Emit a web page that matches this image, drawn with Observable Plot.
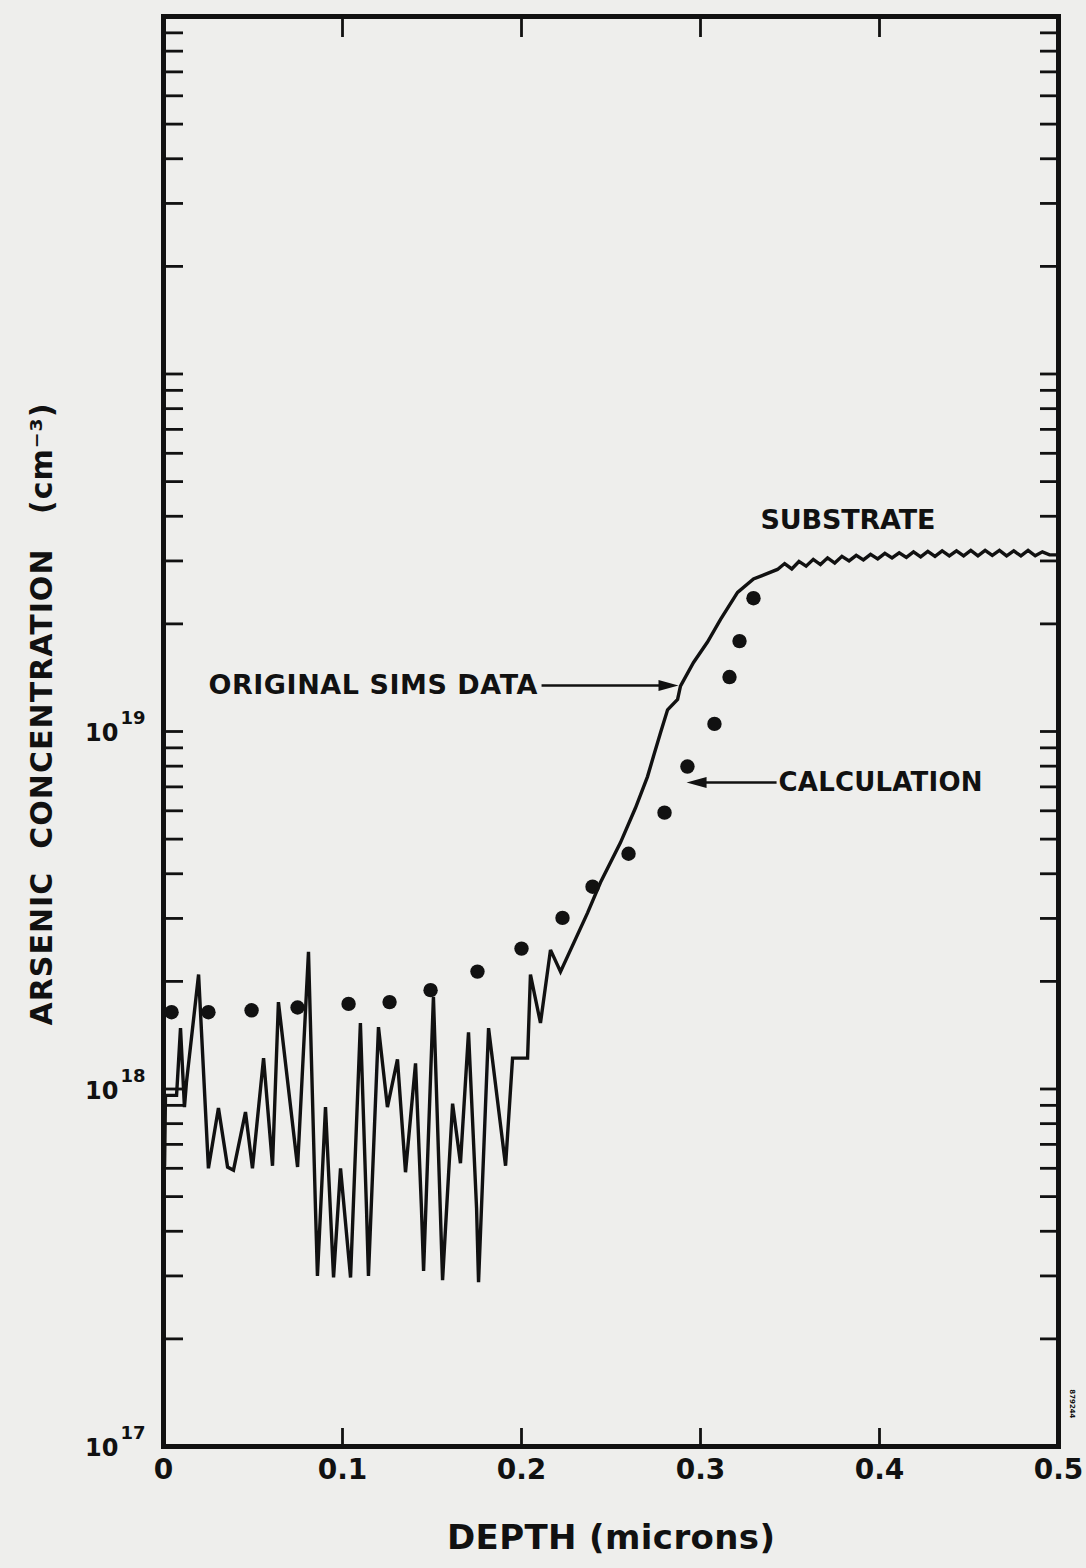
<!DOCTYPE html>
<html><head><meta charset="utf-8">
<script src="https://cdn.jsdelivr.net/npm/d3@7"></script>
<script src="https://cdn.jsdelivr.net/npm/@observablehq/plot@0.6"></script>
<style>
html,body{margin:0;padding:0;background:#eeeeec;}
#chart svg{display:block;}
</style></head><body><div id="chart"></div>
<script>
// ---- SIMS measured profile (depth in microns, concentration in cm^-3)
const depth = [0.0006,0.0011,0.0073,0.0095,0.0117,0.0128,0.0196,0.0251,0.0307,0.0358,0.0391,0.0458,0.0497,0.0559,0.0609,0.0642,0.0749,0.081,0.0849,0.086,0.0905,0.095,0.0989,0.1045,0.110,0.1134,0.1145,0.1201,0.1251,0.1307,0.1352,0.1408,0.1441,0.1453,0.1508,0.1559,0.1615,0.1659,0.1704,0.1749,0.176,0.1816,0.1911,0.195,0.2034,0.205,0.2106,0.2162,0.2218,0.2369,0.2441,0.2553,0.2637,0.2704,0.2737,0.2777,0.2816,0.2872,0.2888,0.2961,0.3039,0.3112,0.3207,0.3296,0.343,
  0.347,0.351,0.355,0.359,0.363,0.367,0.371,0.375,0.379,0.383,0.387,0.391,0.395,0.399,0.403,0.407,0.411,0.415,0.419,0.423,0.427,0.431,0.435,0.439,0.443,0.447,0.451,0.455,0.459,0.463,0.467,0.471,0.475,0.479,0.483,0.487,0.491,0.495,0.5];
const conc = [6.1e17,9.6e17,9.6e17,1.48e18,8.9e17,1.04e18,2.09e18,6.0e17,8.85e17,6.05e17,5.93e17,8.62e17,6.0e17,1.22e18,6.1e17,1.75e18,6.05e17,2.42e18,4.64e17,3.0e17,8.9e17,2.97e17,6.0e17,2.97e17,1.53e18,4.64e17,3.0e17,1.49e18,8.9e17,1.21e18,5.85e17,1.18e18,4.64e17,3.1e17,1.81e18,2.92e17,9.1e17,6.2e17,1.44e18,4.64e17,2.88e17,1.48e18,6.1e17,1.22e18,1.22e18,2.09e18,1.53e18,2.45e18,2.13e18,3.11e18,3.78e18,4.89e18,6.12e18,7.48e18,8.51e18,9.94e18,1.15e19,1.23e19,1.34e19,1.56e19,1.78e19,2.06e19,2.45e19,2.67e19,2.84e19,
  2.95e19,2.85e19,2.99e19,2.90e19,3.03e19,2.93e19,3.06e19,2.96e19,3.09e19,3.00e19,3.11e19,3.02e19,3.13e19,3.04e19,3.15e19,3.06e19,3.16e19,3.07e19,3.18e19,3.08e19,3.19e19,3.09e19,3.20e19,3.10e19,3.20e19,3.10e19,3.21e19,3.10e19,3.21e19,3.11e19,3.21e19,3.10e19,3.20e19,3.10e19,3.21e19,3.10e19,3.18e19,3.12e19,3.12e19];

// ---- Calculation (dots)
const calcDepth = [0.0045,0.0251,0.0492,0.0749,0.1034,0.1263,0.1492,0.1754,0.2,0.2229,0.2397,0.2598,0.2799,0.2927,0.3078,0.3162,0.3218,0.3296];
const calcConc = [1.64e18,1.64e18,1.66e18,1.69e18,1.73e18,1.75e18,1.89e18,2.13e18,2.47e18,3.01e18,3.68e18,4.55e18,5.93e18,7.98e18,1.05e19,1.42e19,1.79e19,2.36e19];

// ---- Ticks
const xTickLabels = [0, 0.1, 0.2, 0.3, 0.4, 0.5];
const xInnerTicks = [0.1, 0.2, 0.3, 0.4];
const yLabelTicks = [1e17, 1e18, 1e19];
const decades = [1e17, 1e18, 1e19, 1e20];
const mantissas = [1, 2, 3, 4, 5, 6, 7, 8, 9];
const yMinorTicks = decades.flatMap(p => mantissas.map(m => m * p)).concat([1e21]);

const sims = depth.map((d, i) => ({depth: d, conc: conc[i]}));
const calc = calcDepth.map((d, i) => ({depth: d, conc: calcConc[i]}));

// filled arrowhead symbol, tip at the point
const arrowHead = {
  draw(ctx, size) {
    const r = Math.sqrt(size / Math.PI);
    ctx.moveTo(0, 0);
    ctx.lineTo(-2 * r, -0.55 * r);
    ctx.lineTo(-2 * r, 0.55 * r);
    ctx.closePath();
  }
};

const ink = "#111";
const font = "DejaVu Sans";

const chart = Plot.plot({
  width: 1086,
  height: 1568,
  marginLeft: 163,
  marginRight: 28,
  marginTop: 16,
  marginBottom: 122,
  x: {domain: [0, 0.5]},
  y: {type: "log", domain: [1e17, 1e21]},
  style: {fontFamily: font, background: "#eeeeec", color: ink},
  marks: [
    Plot.axisY(yMinorTicks, {anchor: "left", tickSize: -20, strokeWidth: 2.8, stroke: ink, tickFormat: () => "", label: null}),
    Plot.axisY(yMinorTicks, {anchor: "right", tickSize: -19, strokeWidth: 2.8, stroke: ink, tickFormat: () => "", label: null}),
    Plot.axisX(xInnerTicks, {anchor: "bottom", tickSize: -18, strokeWidth: 2.8, stroke: ink, tickFormat: () => "", label: null}),
    Plot.axisX(xInnerTicks, {anchor: "top", tickSize: -20, strokeWidth: 2.8, stroke: ink, tickFormat: () => "", label: null}),
    Plot.frame({stroke: ink, strokeWidth: 5}),

    // y tick labels 10^n
    Plot.text(yLabelTicks, {y: d => d, text: () => "10", frameAnchor: "left", textAnchor: "end", dx: -45, dy: 2, fontSize: 24, fontWeight: "bold", fill: ink}),
    Plot.text(yLabelTicks, {y: d => d, text: d => String(Math.round(Math.log10(d))), frameAnchor: "left", textAnchor: "start", dx: -43, dy: -13, fontSize: 18, fontWeight: "bold", fill: ink}),
    // x tick labels
    Plot.text(xTickLabels, {x: d => d, text: d => String(d), frameAnchor: "bottom", dy: 32, fontSize: 28, fontWeight: "bold", fill: ink}),

    // data
    Plot.line(sims, {x: "depth", y: "conc", stroke: ink, strokeWidth: 3.4, strokeLinejoin: "miter", strokeMiterlimit: 3}),
    Plot.dot(calc, {x: "depth", y: "conc", r: 7.2, fill: ink, stroke: "none"}),

    // annotations
    Plot.text(["ORIGINAL SIMS DATA"], {x: 0.0251, y: 1.345e19, text: d => d, textAnchor: "start", fontSize: 27, fontWeight: "bold", fill: ink}),
    Plot.link([0], {x1: 0.2112, x2: 0.2822, y1: 1.345e19, y2: 1.345e19, stroke: ink, strokeWidth: 2.6}),
    Plot.dot([0], {x: 0.2877, y: 1.345e19, symbol: arrowHead, r: 10, fill: ink, stroke: "none"}),

    Plot.text(["CALCULATION"], {x: 0.3436, y: 7.2e18, text: d => d, textAnchor: "start", fontSize: 26, fontWeight: "bold", fill: ink}),
    Plot.link([0], {x1: 0.3425, x2: 0.2977, y1: 7.2e18, y2: 7.2e18, stroke: ink, strokeWidth: 2.6}),
    Plot.dot([0], {x: 0.2922, y: 7.2e18, symbol: arrowHead, r: 10, rotate: 180, fill: ink, stroke: "none"}),

    Plot.text(["SUBSTRATE"], {x: 0.3335, y: 3.9e19, text: d => d, textAnchor: "start", fontSize: 27, fontWeight: "bold", fill: ink}),

    // axis titles
    Plot.text(["DEPTH (microns)"], {frameAnchor: "bottom", text: d => d, dy: 102, fontSize: 34, fontWeight: "bold", fill: ink}),
    Plot.text(["ARSENIC\u00a0\u00a0CONCENTRATION\u00a0\u00a0\u00a0(cm\u207b\u00b3)"], {frameAnchor: "left", text: d => d, rotate: -90, textAnchor: "start", dx: -121, dy: 294, fontSize: 30, fontWeight: "bold", fill: ink}),

    // small figure number at the lower right
    Plot.text(["879244"], {frameAnchor: "bottom-right", text: d => d, rotate: 90, dx: 11, dy: -28, fontSize: 7, fontWeight: "bold", fill: ink})
  ]
});

// stretch spacing of lettered labels to the drawing's widths
const fit = {
  "ORIGINAL SIMS DATA": 329,
  "DEPTH (microns)": 328,
  "CALCULATION": 204,
  "SUBSTRATE": 175
};
d3.select(chart).selectAll("text").each(function () {
  const t = this.textContent;
  if (fit[t]) { this.setAttribute("textLength", fit[t]); this.setAttribute("lengthAdjust", "spacing"); }
  if (t.startsWith("ARSENIC")) { this.setAttribute("textLength", 622); this.setAttribute("lengthAdjust", "spacing"); }
});

document.getElementById("chart").appendChild(chart);
</script>
</body></html>
